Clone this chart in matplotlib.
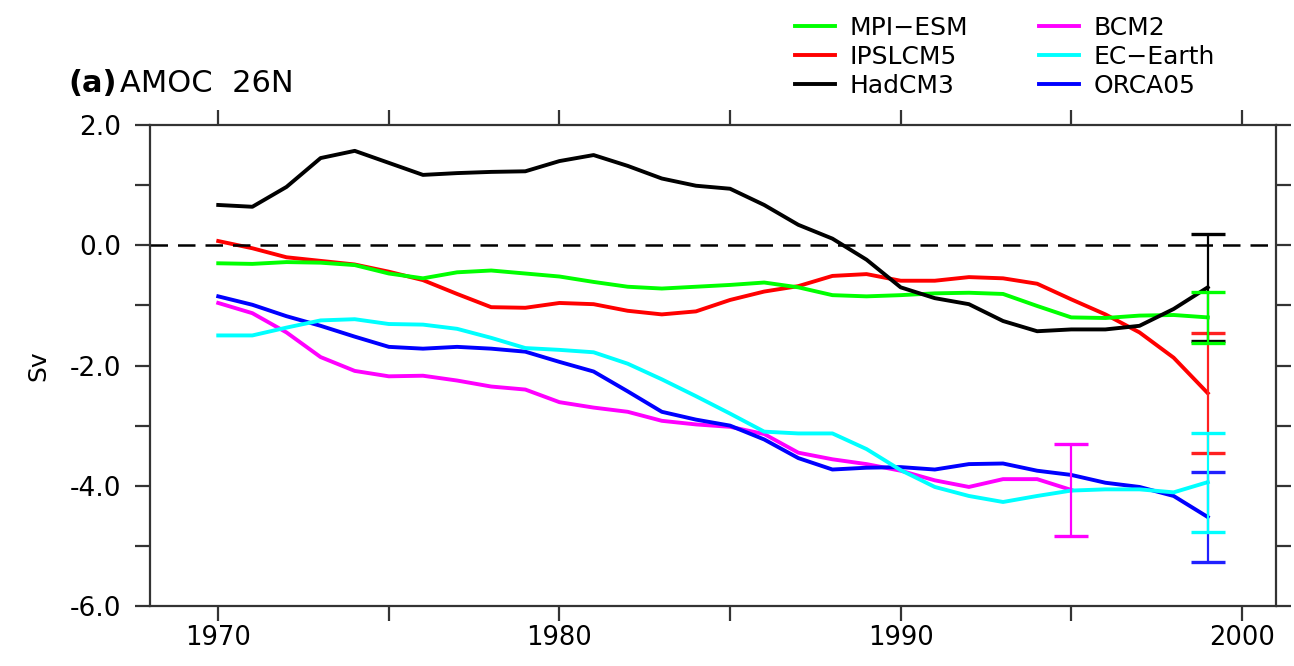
import numpy as np
import matplotlib
matplotlib.use('Agg')
import matplotlib.pyplot as plt

plt.rcParams['font.family'] = ['DejaVu Sans']

years = np.arange(1970, 2000)
years_bcm = np.arange(1970, 1996)

mpi_esm = [-0.30, -0.31, -0.28, -0.29, -0.33, -0.47, -0.55, -0.45, -0.42, -0.47,
           -0.52, -0.61, -0.69, -0.72, -0.69, -0.66, -0.62, -0.70, -0.83, -0.85,
           -0.83, -0.80, -0.79, -0.81, -1.01, -1.20, -1.21, -1.17, -1.16, -1.20]
ipslcm5 = [0.07, -0.05, -0.20, -0.26, -0.32, -0.44, -0.58, -0.81, -1.03, -1.04,
           -0.96, -0.98, -1.09, -1.15, -1.10, -0.91, -0.77, -0.68, -0.51, -0.48,
           -0.59, -0.59, -0.53, -0.55, -0.64, -0.90, -1.15, -1.45, -1.87, -2.46]
hadcm3 = [0.67, 0.64, 0.97, 1.45, 1.57, 1.37, 1.17, 1.20, 1.22, 1.23,
          1.40, 1.50, 1.32, 1.11, 0.99, 0.94, 0.67, 0.34, 0.11, -0.24,
          -0.70, -0.88, -0.98, -1.26, -1.43, -1.40, -1.40, -1.34, -1.06, -0.70]
bcm2 = [-0.96, -1.13, -1.45, -1.86, -2.09, -2.18, -2.17, -2.25, -2.35, -2.40,
        -2.61, -2.70, -2.77, -2.92, -2.98, -3.02, -3.14, -3.45, -3.56, -3.64,
        -3.75, -3.91, -4.02, -3.89, -3.89, -4.07]
ec_earth = [-1.50, -1.50, -1.37, -1.25, -1.23, -1.31, -1.32, -1.39, -1.54, -1.71,
            -1.74, -1.78, -1.97, -2.23, -2.51, -2.80, -3.10, -3.13, -3.13, -3.39,
            -3.74, -4.02, -4.17, -4.27, -4.17, -4.08, -4.06, -4.06, -4.11, -3.94]
orca05 = [-0.85, -0.99, -1.18, -1.34, -1.52, -1.69, -1.72, -1.69, -1.72, -1.77,
          -1.94, -2.10, -2.43, -2.77, -2.90, -3.00, -3.23, -3.54, -3.73, -3.70,
          -3.69, -3.73, -3.64, -3.63, -3.75, -3.82, -3.95, -4.02, -4.17, -4.52]

# spread bars at the end of each series (half widths, Sv)
err_red, err_blue, err_black, err_green, err_cyan, err_mag = 1.0, 0.75, 0.89, 0.42, 0.825, 0.77

fig = plt.figure(figsize=(12.94, 6.66), dpi=100)
ax = fig.add_axes([150/1294., 60/666., 1126/1294., 481/666.])

lw = 2.8
ax.plot(years, ipslcm5, color='#ff0000', lw=lw, label='IPSLCM5')
ax.plot(years, mpi_esm, color='#00ff00', lw=lw, label='MPI\u2212ESM')
ax.plot(years_bcm, bcm2, color='#ff00ff', lw=lw, label='BCM2')
ax.plot(years, orca05, color='#0000ff', lw=lw, label='ORCA05')
ax.plot(years, ec_earth, color='#00ffff', lw=lw, label='EC\u2212Earth')
ax.plot(years, hadcm3, color='k', lw=lw, label='HadCM3')

ekw = dict(capsize=12, elinewidth=1.6, capthick=2.4, fmt='none')
ax.errorbar(years[-1], ipslcm5[-1], yerr=err_red, ecolor='#ff2020', **ekw)
ax.errorbar(years[-1], orca05[-1], yerr=err_blue, ecolor='#2020ff', **ekw)
ax.errorbar(years[-1], hadcm3[-1], yerr=err_black, ecolor='k', **ekw)
ax.errorbar(years[-1], mpi_esm[-1], yerr=err_green, ecolor='#00ff00', **ekw)
ax.errorbar(years[-1], ec_earth[-1], yerr=err_cyan, ecolor='#00ffff', **ekw)
ax.errorbar(years_bcm[-1], bcm2[-1], yerr=err_mag, ecolor='#ff00ff', **ekw)

ax.axhline(0, color='k', ls=(0, (7, 4)), lw=1.8)

ax.set_xlim(1968, 2001)
ax.set_ylim(-6, 2)
ax.set_xticks(np.arange(1970, 2001, 10))
ax.set_xticks(np.arange(1975, 2000, 10), minor=True)
ax.set_yticks(np.arange(-6, 2.1, 2))
ax.set_yticks(np.arange(-5, 2, 2), minor=True)
ax.set_yticklabels(['%.1f' % v for v in np.arange(-6, 2.1, 2)])
ax.set_xticklabels([str(y) for y in range(1970, 2001, 10)])

for side in ['left', 'right', 'top', 'bottom']:
    ax.spines[side].set_linewidth(1.6)
    ax.spines[side].set_color('#333333')
ax.tick_params(which='both', direction='out', length=11, width=1.6, color='#333333',
               top=True, right=True, labelsize=19, pad=10)
ax.tick_params(axis='x', labelsize=18.5, pad=3)

ax.set_ylabel('Sv', fontsize=18, labelpad=14)

fig.text(68/1294., 1 - 83/666., '(a)', fontsize=22, fontweight='bold', va='center')
fig.text(120/1294., 1 - 83/666., 'AMOC  26N', fontsize=22, va='center')

h = {l.get_label(): l for l in ax.get_lines()}
order = ['MPI\u2212ESM', 'IPSLCM5', 'HadCM3', 'BCM2', 'EC\u2212Earth', 'ORCA05']
leg = fig.legend([h[k] for k in order], order, ncol=2, loc='upper left',
                 bbox_to_anchor=(785/1294., 1 - 6/666.), frameon=False, fontsize=18,
                 handlelength=1.6, handletextpad=0.6, columnspacing=2.8,
                 labelspacing=0.2, borderaxespad=0)

fig.savefig('out.png', dpi=100)
